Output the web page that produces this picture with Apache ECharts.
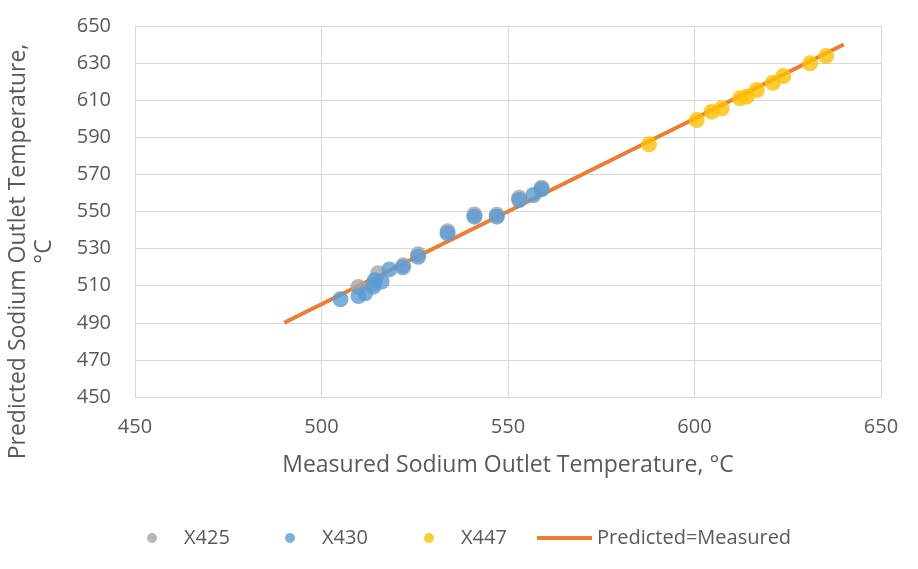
<!DOCTYPE html>
<html>
<head>
<meta charset="utf-8">
<script src="https://cdn.jsdelivr.net/npm/echarts@6/dist/echarts.min.js"></script>
<style>
html, body { margin: 0; padding: 0; background: #fff; }
#chart { width: 918px; height: 569px; }
</style>
</head>
<body>
<div id="chart"></div>
<script>
// measured, predicted pairs (degC)
var x425 = [
	[509.9, 509.3], [515.2, 516.7], [533.8, 539.4], [541.0, 548.4], [547.0, 548.3],
	[553.0, 557.4], [559.0, 562.8], [525.9, 527.0], [513.9, 511.0], [521.9, 521.0]
];
var x430 = [
	[505.1, 502.7], [509.9, 504.4], [511.7, 505.9], [513.9, 509.5], [514.3, 513.0],
	[516.1, 512.2], [518.2, 518.8], [521.8, 519.9], [525.9, 525.6], [533.8, 538.2],
	[541.0, 547.2], [547.0, 547.2], [553.0, 556.2], [556.8, 558.9], [559.0, 562.0]
];
var x447 = [
	[587.8, 586.2], [600.6, 599.3], [604.6, 603.8], [607.3, 605.6], [612.2, 611.0],
	[614.0, 611.9], [616.7, 615.5], [621.0, 619.4], [623.8, 623.0], [631.0, 629.9],
	[635.3, 633.8]
];
var fitLine = [[490, 490], [640, 640]];

var seriesNames = ['X425', 'X430', 'X447', 'Predicted=Measured'];
var colors = ['#a5a5a5', '#5b9bd5', '#ffc000', '#ed7d31'];

var chart = echarts.init(document.getElementById('chart'));
var font = '"Open Sans", sans-serif';
var gridColor = '#d9d9d9';
var textColor = '#595959';

function legendAt(name, left, w, h, icon) {
	return {
		data: [{ name: name, icon: icon }],
		left: left,
		top: 523,
		itemWidth: w,
		itemHeight: h,
		textStyle: { fontFamily: font, fontSize: 20, color: textColor }
	};
}

var option = {
	animation: false,
	color: colors,
	grid: { left: 135, right: 37, top: 26, bottom: 172, outerBoundsMode: 'none' },
	legend: [
		legendAt(seriesNames[0], 142, 54, 10, 'circle'),
		legendAt(seriesNames[1], 280, 54, 10, 'circle'),
		legendAt(seriesNames[2], 419, 54, 10, 'circle'),
		legendAt(seriesNames[3], 532, 55, 4, 'rect')
	],
	xAxis: {
		type: 'value',
		min: 450,
		max: 650,
		interval: 50,
		name: 'Measured Sodium Outlet Temperature, °C',
		nameLocation: 'middle',
		nameGap: 57,
		nameTextStyle: { fontFamily: font, fontSize: 23, color: textColor },
		axisLine: { lineStyle: { color: gridColor } },
		axisTick: { show: false },
		axisLabel: { fontFamily: font, fontSize: 20, color: textColor, margin: 20 },
		splitLine: { lineStyle: { color: gridColor, width: 1 } }
	},
	yAxis: {
		type: 'value',
		min: 450,
		max: 650,
		interval: 20,
		name: 'Predicted Sodium Outlet Temperature,\n°C',
		nameLocation: 'middle',
		nameGap: 78,
		nameTextStyle: { fontFamily: font, fontSize: 23, color: textColor, lineHeight: 26, padding: [0, 80, 0, 0] },
		axisLine: { show: true, lineStyle: { color: gridColor } },
		axisTick: { show: false },
		axisLabel: { fontFamily: font, fontSize: 20, color: textColor, margin: 24 },
		splitLine: { lineStyle: { color: gridColor, width: 1 } }
	},
	series: [
		{ name: seriesNames[0], type: 'scatter', symbolSize: 16, data: x425, z: 2,
			itemStyle: { color: colors[0] } },
		{ name: seriesNames[1], type: 'scatter', symbolSize: 16, data: x430, z: 3,
			itemStyle: { color: colors[1] } },
		{ name: seriesNames[2], type: 'scatter', symbolSize: 16, data: x447, z: 3,
			itemStyle: { color: colors[2] } },
		{ name: seriesNames[3], type: 'line', data: fitLine, symbol: 'none', z: 1,
			lineStyle: { color: colors[3], width: 4 }, itemStyle: { color: colors[3] } }
	]
};
chart.setOption(option);
</script>
</body>
</html>
